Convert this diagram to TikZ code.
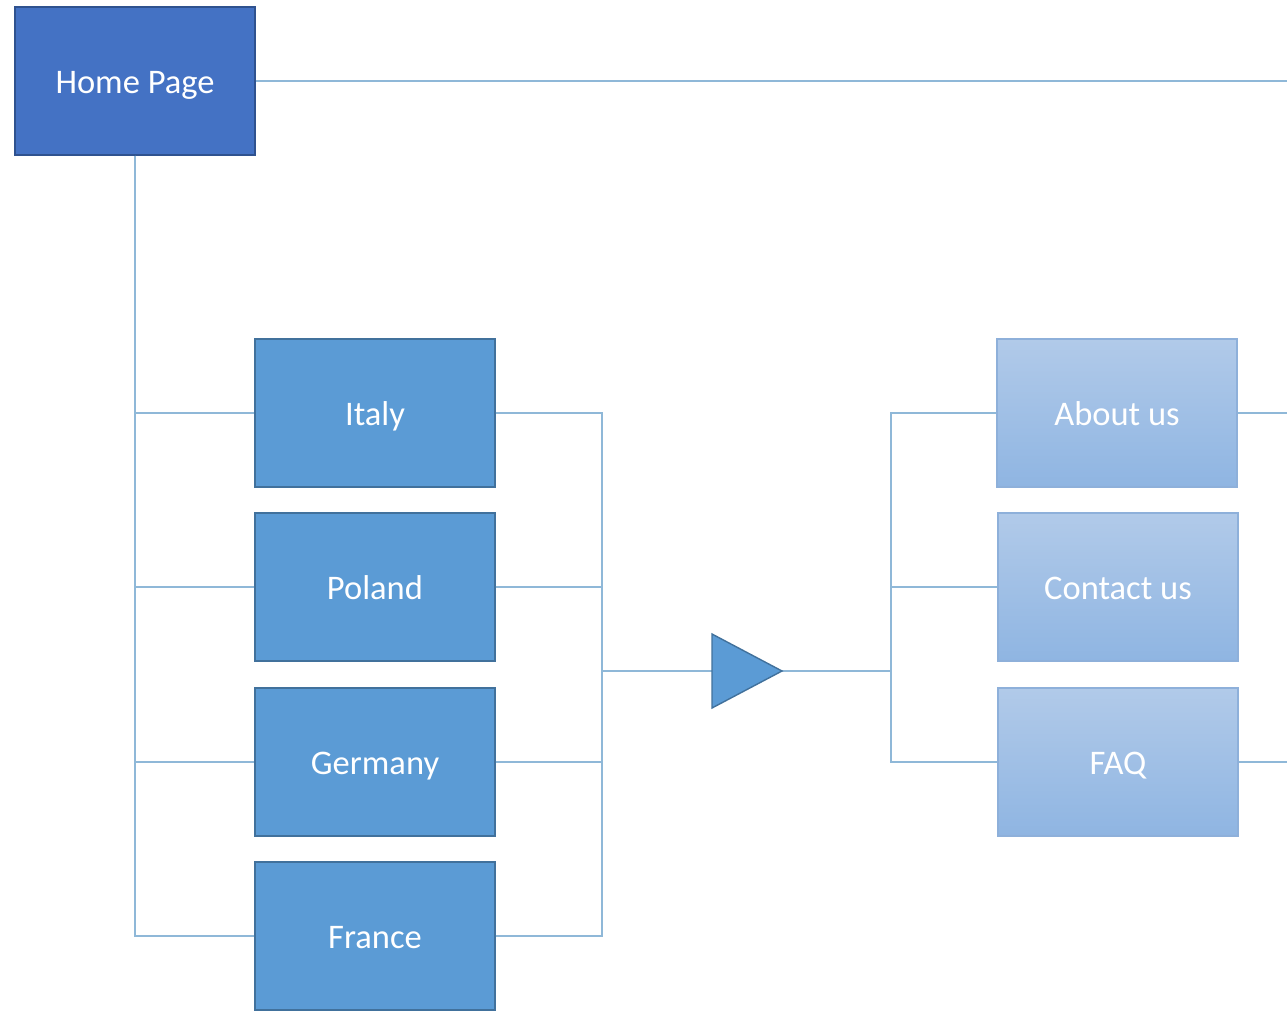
\documentclass[tikz,border=0pt]{standalone}
\usepackage{fontspec}
\setmainfont{Carlito}
\definecolor{homefill}{HTML}{4472C4}
\definecolor{homeline}{HTML}{2F528F}
\definecolor{boxfill}{HTML}{5B9BD5}
\definecolor{boxline}{HTML}{41719C}
\definecolor{lighttop}{HTML}{B1CAE9}
\definecolor{lightbot}{HTML}{8FB5E2}
\definecolor{lightline}{HTML}{8EB0DA}
\definecolor{connc}{HTML}{8FB8D8}
\tikzset{
  basebox/.style={rectangle, inner sep=0pt, line width=1.4pt, text=white,
    text height=25pt, text depth=0pt,
    font=\fontsize{34.5}{40}\selectfont},
  homebox/.style={basebox, draw=homeline, fill=homefill, minimum width=240pt, minimum height=148pt},
  countrybox/.style={basebox, draw=boxline, fill=boxfill, minimum width=240pt, minimum height=148pt},
  infobox/.style={basebox, draw=lightline, top color=lighttop, bottom color=lightbot, minimum width=240pt, minimum height=148pt},
  conn/.style={draw=connc, line width=1.1pt},
  tri/.style={draw=boxline, fill=boxfill, line width=1.4pt, line join=miter},
}
\begin{document}
\begin{tikzpicture}[x=1pt,y=-1pt]
\useasboundingbox (0,0) rectangle (1287,1011);
\node[homebox] (home) at (135,81) {Home Page};
\node[countrybox] (italy) at (375,413) {Italy};
\node[countrybox] (poland) at (375,587) {Poland};
\node[countrybox] (germany) at (375,762) {Germany};
\node[countrybox] (france) at (375,936) {France};
\node[infobox] (about) at (1117,413) {About us};
\node[infobox] (contact) at (1118,587) {Contact us};
\node[infobox] (faq) at (1118,762) {FAQ};
\coordinate (triw) at (712,671);
\coordinate (trie) at (782,671);
\coordinate (jl) at (602,671);
\coordinate (jr) at (891,671);
\coordinate (rimA) at (1287,81);
\coordinate (rimB) at (1287,413);
\coordinate (rimC) at (1287,762);
% home connections
\draw[conn] (home.east) -- (rimA);
\draw[conn] (home.south) |- (italy.west);
\draw[conn] (home.south) |- (poland.west);
\draw[conn] (home.south) |- (germany.west);
\draw[conn] (home.south) |- (france.west);
% countries to triangle
\draw[conn] (italy.east) -| (jl);
\draw[conn] (poland.east) -| (jl);
\draw[conn] (germany.east) -| (jl);
\draw[conn] (france.east) -| (jl);
\draw[conn] (jl) -- (triw);
\draw[conn] (trie) -- (jr);
% triangle
\draw[tri] (712,634) -- (trie) -- (712,708) -- cycle;
% triangle to info
\draw[conn] (jr) |- (about.west);
\draw[conn] (jr) |- (contact.west);
\draw[conn] (jr) |- (faq.west);
\draw[conn] (about.east) -- (rimB);
\draw[conn] (faq.east) -- (rimC);
\end{tikzpicture}
\end{document}
